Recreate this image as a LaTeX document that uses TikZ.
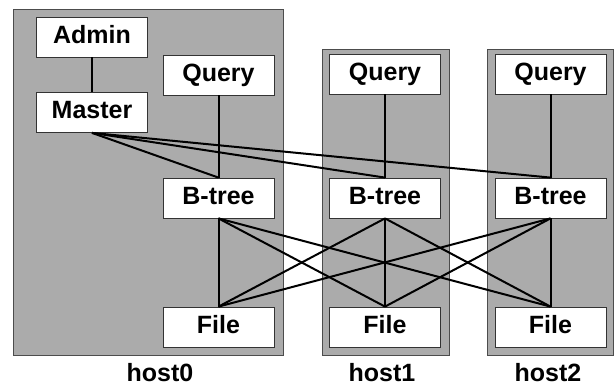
\documentclass[tikz,border=0pt]{standalone}
\usepackage{fontspec}
\setmainfont{Liberation Sans}
\begin{document}
\begin{tikzpicture}[x=1pt,y=-1pt,
  hostbox/.style={draw=black!70,line width=0.8pt,fill=black!33},
  comp/.style={draw=black!80,line width=0.8pt,fill=white,minimum width=111pt,minimum height=40pt,
    inner sep=0pt,font=\fontsize{25}{29}\selectfont\bfseries,text height=17pt,text depth=5pt},
  hostlabel/.style={font=\fontsize{25}{29}\selectfont\bfseries,inner sep=0pt,text height=17pt,text depth=1pt},
  link/.style={line width=2pt,black}]
\useasboundingbox (0,0) rectangle (616,388);
% machine areas
\fill[white] (0,0) rectangle (616,388);
\draw[hostbox] (13,9) rectangle (283,355);
\draw[hostbox] (322,49) rectangle (449,355);
\draw[hostbox] (487,49) rectangle (613,355);
% components
\node[comp] (admin) at (92,37) {Admin};
\node[comp] (master) at (92,112.5) {Master};
\node[comp] (q0) at (218.5,75) {Query};
\node[comp] (q1) at (385,74) {Query};
\node[comp] (q2) at (550.5,74) {Query};
\node[comp] (b0) at (218.5,198) {B-tree};
\node[comp] (b1) at (385,198) {B-tree};
\node[comp] (b2) at (550.5,198) {B-tree};
\node[comp] (f0) at (218.5,327) {File};
\node[comp] (f1) at (385,327) {File};
\node[comp] (f2) at (550.5,327) {File};
% host names
\node[hostlabel] (h0) at (160,373) {host0};
\node[hostlabel] (h1) at (382,373) {host1};
\node[hostlabel] (h2) at (548,373) {host2};
% links
\draw[link] (admin.south) -- (master.north);
\foreach \i in {0,1,2}{
  \draw[link] (q\i.south) -- (b\i.north);
  \draw[link] (master.south) -- (b\i.north);
  \foreach \j in {0,1,2}{
    \draw[link] (b\i.south) -- (f\j.north);
  }
}
\end{tikzpicture}
\end{document}
